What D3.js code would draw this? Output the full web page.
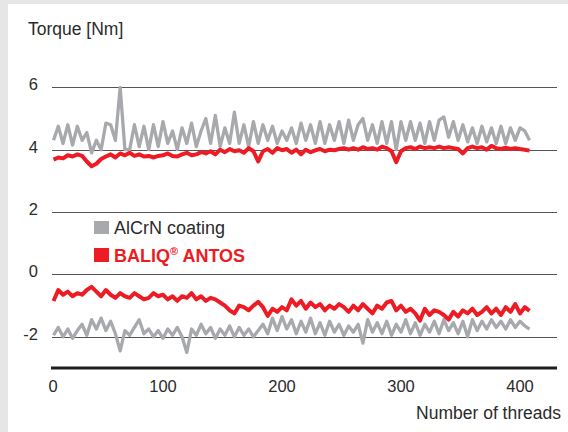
<!DOCTYPE html>
<html lang="en">
<head>
    <meta charset="UTF-8">
    <title>Torque vs number of threads</title>
    <style>
        body { margin: 0; background: #e6e6e7; }
        svg { display: block; font-family: "Liberation Sans", Arial, sans-serif; }
        .label { fill: #2b2b2b; font-size: 16.5px; }
        .grid line { stroke: #555; stroke-width: 1.2px; }
    </style>
</head>
<body>
    <div id="chart"></div>
    <script src="https://d3js.org/d3.v7.min.js"></script>
    <script>
        // thread counts for every reading (every 4th thread, 8 .. 408)
        const threads = d3.range(8, 409, 4);

        const alcrnUpper = [
            4.3, 4.75, 4.2, 4.8, 4.15, 4.75, 4.3, 4.55, 3.9, 4.3,
            4.0, 4.85, 4.8, 4.3, 6.0, 4.0, 4.0, 4.8, 4.1, 4.75,
            4.0, 4.8, 4.1, 4.9, 4.2, 4.6, 4.0, 4.7, 4.2, 4.85,
            4.1, 4.6, 5.0, 4.2, 5.1, 4.1, 4.7, 4.2, 5.2, 4.2,
            4.8, 4.1, 4.9, 4.2, 4.8, 4.3, 4.75, 4.2, 4.6, 4.3,
            4.7, 4.2, 4.85, 4.3, 4.8, 4.2, 4.9, 4.2, 4.8, 4.3,
            4.9, 4.2, 4.95, 4.3, 4.8, 5.0, 4.3, 4.8, 4.2, 4.9,
            4.2, 4.9, 4.0, 4.9, 4.3, 4.9, 4.3, 4.85, 4.2, 4.9,
            4.3, 4.95, 5.05, 4.4, 4.9, 4.3, 4.8, 4.25, 4.7, 4.2,
            4.75, 4.25, 4.7, 4.2, 4.75, 4.2, 4.7, 4.3, 4.7, 4.6,
            4.3
        ];

        const baliqUpper = [
            3.68, 3.75, 3.72, 3.82, 3.78, 3.85, 3.8, 3.62, 3.47, 3.55,
            3.7, 3.78, 3.85, 3.75, 3.88, 3.82, 3.9, 3.8, 3.85, 3.78,
            3.8, 3.75, 3.8, 3.82, 3.88, 3.8, 3.78, 3.85, 3.9, 3.82,
            3.85, 3.92, 3.88, 3.95, 3.85, 4.0, 3.92, 4.02, 3.95, 3.98,
            3.9, 4.05, 3.95, 3.62, 3.95, 4.02, 3.9, 4.05, 3.98, 4.02,
            3.9, 4.0, 3.85, 4.0, 3.92, 3.98, 4.02, 3.95, 4.0, 3.98,
            4.02, 4.05, 4.0, 4.05, 4.0, 4.08, 4.02, 4.05, 4.0, 4.1,
            4.05, 3.95, 3.6, 3.95, 4.05, 4.08, 4.02, 4.1, 4.05, 4.08,
            4.05, 4.1, 4.05, 4.08, 4.05, 4.02, 3.88, 4.05, 4.1, 4.05,
            4.08, 4.0, 4.12, 4.05, 4.02, 4.06, 4.02, 4.05, 4.02, 4.0,
            3.97
        ];

        const alcrnLower = [
            -1.95, -1.7, -2.0, -1.75, -2.05, -1.8, -1.6, -1.95, -1.45, -1.75,
            -1.4, -1.8, -1.5, -1.9, -2.45, -1.8, -1.95, -1.7, -1.45, -1.9,
            -1.75, -2.0, -1.8, -2.05, -1.75, -1.95, -1.7, -2.0, -2.5, -1.75,
            -1.95, -1.6, -1.9, -1.7, -2.05, -1.75, -1.95, -1.65, -2.0, -1.7,
            -1.95, -1.75, -2.0, -1.8, -1.6, -1.9, -1.4, -1.8, -1.35, -1.75,
            -1.45, -1.9, -1.5, -1.85, -1.4, -1.9, -1.55, -1.95, -1.5, -1.85,
            -1.6, -1.95, -1.65, -1.85, -1.6, -2.2, -1.45, -1.85, -1.55, -1.9,
            -1.5, -1.95, -1.6, -1.85, -1.45, -1.9, -1.55, -1.95, -1.6, -1.85,
            -1.5, -1.9, -1.45, -1.8, -1.55, -1.9, -1.5, -2.0, -1.45, -1.8,
            -1.5, -1.75, -1.45, -1.7, -1.5, -1.75, -1.45, -1.7, -1.5, -1.65,
            -1.75
        ];

        const baliqLower = [
            -0.85, -0.5, -0.65, -0.55, -0.7, -0.6, -0.65, -0.5, -0.4, -0.55,
            -0.7, -0.5, -0.65, -0.75, -0.6, -0.7, -0.75, -0.6, -0.7, -0.8,
            -0.75, -0.6, -0.7, -0.65, -0.8, -0.7, -0.85, -0.7, -0.75, -0.6,
            -0.8, -0.7, -0.85, -0.75, -0.8, -0.9, -1.0, -1.15, -1.25, -1.0,
            -1.05, -1.15, -1.0, -0.88, -1.05, -1.33, -1.1, -1.2, -1.05, -1.15,
            -0.8, -1.0, -0.85, -1.1, -0.9, -1.05, -0.95, -1.15, -1.0, -1.1,
            -0.95, -1.05, -1.2, -1.0, -1.15, -0.95, -1.1, -1.25, -1.0, -1.1,
            -0.9, -0.85, -1.15, -1.0, -1.2, -1.1, -1.25, -1.48, -1.1, -1.3,
            -1.15, -1.2, -1.3, -1.45, -1.2, -1.35, -1.15, -1.25, -1.1, -1.3,
            -1.2, -1.05, -1.25, -1.1, -1.3, -1.05, -1.2, -0.95, -1.25, -1.05,
            -1.17
        ];

        const yTicks = [-2, 0, 2, 4, 6];
        const xTicks = [0, 100, 200, 300, 400];

        const width = 568, height = 432;

        const svg = d3.select("#chart").append("svg")
            .attr("width", width)
            .attr("height", height);

        // white panel on the light grey page
        svg.append("rect")
            .attr("x", 8).attr("y", 4)
            .attr("width", width - 8).attr("height", height - 4)
            .attr("fill", "#fff");

        const x = d3.scaleLinear().domain([0, 400]).range([44, 520]);
        const y = d3.scaleLinear().domain([-3, 6]).range([368, 87.3]);

        // horizontal grid lines
        svg.append("g")
            .attr("class", "grid")
            .selectAll("line")
            .data(yTicks)
            .join("line")
            .attr("x1", 52).attr("x2", 557)
            .attr("y1", d => Math.round(y(d)) + 0.5)
            .attr("y2", d => Math.round(y(d)) + 0.5);

        // y tick labels
        svg.append("g")
            .selectAll("text")
            .data(yTicks)
            .join("text")
            .attr("class", "label")
            .attr("x", 38)
            .attr("y", d => y(d) + 3)
            .attr("text-anchor", "end")
            .text(d => d);

        // x axis: thick line with labels below
        svg.append("line")
            .attr("x1", 51).attr("x2", 557)
            .attr("y1", 368).attr("y2", 368)
            .attr("stroke", "#1e1e1e")
            .attr("stroke-width", 3);

        svg.append("g")
            .selectAll("text")
            .data(xTicks)
            .join("text")
            .attr("class", "label")
            .attr("x", d => d === 0 ? x(d) + 9 : x(d))
            .attr("y", 392)
            .attr("text-anchor", "middle")
            .text(d => d);

        svg.append("text")
            .attr("class", "label")
            .attr("x", 28).attr("y", 35)
            .style("font-size", "17.5px")
            .text("Torque [Nm]");

        svg.append("text")
            .attr("class", "label")
            .attr("x", 561).attr("y", 419)
            .attr("text-anchor", "end")
            .style("font-size", "17.5px")
            .text("Number of threads");

        const line = d3.line()
            .x((d, i) => x(threads[i]))
            .y(d => y(d));

        const series = [
            { values: alcrnUpper, color: "#a7a9ac", w: 3.3 },
            { values: alcrnLower, color: "#a7a9ac", w: 3.3 },
            { values: baliqUpper, color: "#ed1c24", w: 4 },
            { values: baliqLower, color: "#ed1c24", w: 4 }
        ];

        svg.append("g")
            .selectAll("path")
            .data(series)
            .join("path")
            .attr("fill", "none")
            .attr("stroke", d => d.color)
            .attr("stroke-width", d => d.w)
            .attr("stroke-linejoin", "round")
            .attr("d", d => line(d.values));

        // legend
        const legend = svg.append("g");
        legend.append("rect")
            .attr("x", 94).attr("y", 221).attr("width", 15).attr("height", 13)
            .attr("fill", "#a7a9ac");
        legend.append("text")
            .attr("class", "label")
            .attr("x", 114).attr("y", 234)
            .style("font-size", "18px")
            .text("AlCrN coating");

        legend.append("rect")
            .attr("x", 94).attr("y", 248).attr("width", 15).attr("height", 14)
            .attr("fill", "#ed1c24");
        const baliq = legend.append("text")
            .attr("x", 114).attr("y", 262)
            .attr("fill", "#ed1c24")
            .style("font-size", "18px")
            .style("font-weight", "bold");
        baliq.append("tspan").text("BALIQ");
        baliq.append("tspan").attr("dy", -7).style("font-size", "11px").text("®");
        baliq.append("tspan").attr("dy", 7).text(" ANTOS");
    </script>
</body>
</html>
